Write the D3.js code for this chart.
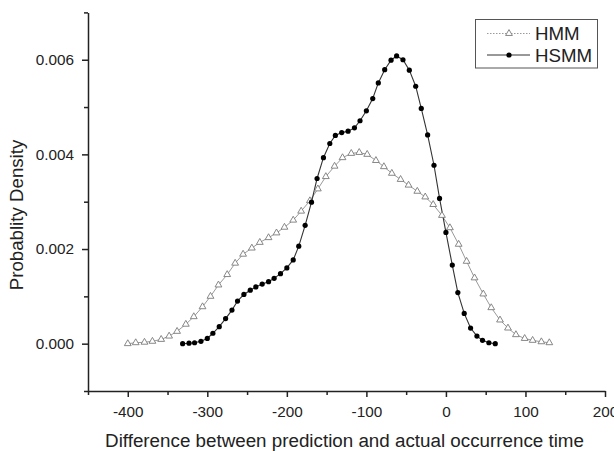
<!DOCTYPE html>
<html>
<head>
<meta charset="utf-8">
<script src="https://cdn.jsdelivr.net/npm/d3@7"></script>
<style>
  html, body { margin: 0; padding: 0; background: #fff; }
  svg { display: block; font-family: "Liberation Sans", Arial, sans-serif; }
</style>
</head>
<body>
<svg id="chart" width="614" height="451"></svg>
<script>
// ---- data ----
const seriesNames = ["HMM", "HSMM"];

const hmmX = [-400,-390,-379,-369,-358,-348,-338,-327,-317,-306,
              -296,-286,-275,-265,-255,-244,-234,-223,-213,-203,
              -192,-182,-171,-161,-151,-140,-130,-119,-109,-99,
              -88,-78,-68,-57,-47,-36,-26,-16,-5,5,
              16,26,36,47,57,68,78,88,99,109,
              120,130];
const hmmY = [0.00000,0.00002,0.00003,0.00005,0.00009,0.00016,0.00026,0.00041,0.00057,0.00078,
              0.00100,0.00124,0.00146,0.00170,0.00189,0.00202,0.00214,0.00224,0.00234,0.00246,
              0.00261,0.00280,0.00302,0.00327,0.00353,0.00375,0.00393,0.00402,0.00404,0.00400,
              0.00387,0.00374,0.00360,0.00347,0.00335,0.00322,0.00310,0.00294,0.00271,0.00245,
              0.00210,0.00174,0.00139,0.00105,0.00076,0.00050,0.00033,0.00019,0.00011,0.00007,
              0.00004,0.00002];

const hsmmX = [-331,-323,-316,-308,-300,-293,-285,-277,-269,-262,
               -254,-246,-239,-231,-223,-216,-208,-200,-192,-185,
               -177,-169,-162,-154,-146,-139,-131,-123,-115,-108,
               -100,-92,-85,-77,-69,-62,-54,-46,-38,-31,
               -23,-15,-8,0,8,15,23,31,39,46,
               54,62];
const hsmmY = [0.00000,0.00001,0.00002,0.00005,0.00011,0.00022,0.00036,0.00053,0.00071,0.00090,
               0.00104,0.00113,0.00120,0.00126,0.00131,0.00138,0.00148,0.00160,0.00177,0.00206,
               0.00250,0.00299,0.00349,0.00393,0.00423,0.00440,0.00446,0.00449,0.00456,0.00471,
               0.00492,0.00518,0.00551,0.00579,0.00599,0.00608,0.00600,0.00578,0.00544,0.00497,
               0.00441,0.00377,0.00307,0.00235,0.00166,0.00108,0.00064,0.00033,0.00016,0.00007,
               0.00002,0.00000];

const xTicks = [-400, -300, -200, -100, 0, 100, 200];
const xMinorTicks = [-450, -350, -250, -150, -50, 50, 150];
const yTicks = [0, 0.002, 0.004, 0.006];
const yTickLabels = ["0.000", "0.002", "0.004", "0.006"];
const yMinorTicks = [-0.001, 0.001, 0.003, 0.005, 0.007];

const xTitle = "Difference between prediction and actual occurrence time";
const yTitle = "Probablity Density";

// ---- layout ----
const svg = d3.select("#chart");
const plotLeft = 88, plotRight = 605, plotTop = 12.4, plotBottom = 391;
const x = d3.scaleLinear().domain([-450, 200]).range([plotLeft, plotRight]);
const y = d3.scaleLinear().domain([-0.001, 0.007]).range([plotBottom, plotTop]);

const axisColor = "#222";
const tickFont = "15.3px";

// x axis
svg.append("g").attr("transform", `translate(0,${plotBottom})`)
  .call(d3.axisBottom(x).tickValues(xTicks).tickFormat(d => d).tickSize(6).tickSizeOuter(0).tickPadding(9));
const gxm = svg.append("g").attr("transform", `translate(0,${plotBottom})`)
  .call(d3.axisBottom(x).tickValues(xMinorTicks).tickFormat("").tickSize(4).tickSizeOuter(0));
gxm.select(".domain").remove();

// y axis
svg.append("g").attr("transform", `translate(${plotLeft},0)`)
  .call(d3.axisLeft(y).tickValues(yTicks).tickFormat((d, i) => yTickLabels[i]).tickSize(6).tickSizeOuter(0).tickPadding(8));
const gym = svg.append("g").attr("transform", `translate(${plotLeft},0)`)
  .call(d3.axisLeft(y).tickValues(yMinorTicks).tickFormat("").tickSize(4).tickSizeOuter(0));
gym.select(".domain").remove();

svg.selectAll(".domain, .tick line").attr("stroke", axisColor).attr("stroke-width", 1.5);
svg.selectAll(".tick text").attr("fill", "#222").style("font-size", tickFont)
  .style("font-family", '"Liberation Sans", Arial, sans-serif');

// axis titles
svg.append("text").attr("x", (plotLeft + plotRight) / 2 - 2).attr("y", 447)
  .attr("text-anchor", "middle").attr("fill", "#222").style("font-size", "18.8px").text(xTitle);
svg.append("text").attr("transform", `translate(23,${215}) rotate(-90)`)
  .attr("text-anchor", "middle").attr("fill", "#222").style("font-size", "18.7px").text(yTitle);

// series
const hmm = hmmX.map((d, i) => [d, hmmY[i]]);
const hsmm = hsmmX.map((d, i) => [d, hsmmY[i]]);
const line = d3.line().x(d => x(d[0])).y(d => y(d[1]));

const hmmColor = "#9a9a9a", hmmMarker = "#7a7a7a";
const hsmmColor = "#333", hsmmMarker = "#000";

svg.append("path").datum(hmm).attr("d", line).attr("fill", "none")
  .attr("stroke", hmmColor).attr("stroke-width", 1);
svg.append("path").datum(hsmm).attr("d", line).attr("fill", "none")
  .attr("stroke", hsmmColor).attr("stroke-width", 1.1);

const tri = d3.symbol().type(d3.symbolTriangle).size(20);
svg.append("g").selectAll("path").data(hmm).join("path")
  .attr("d", tri).attr("transform", d => `translate(${x(d[0])},${y(d[1])})`)
  .attr("fill", "#fff").attr("stroke", hmmMarker).attr("stroke-width", 0.9);

svg.append("g").selectAll("circle").data(hsmm).join("circle")
  .attr("cx", d => x(d[0])).attr("cy", d => y(d[1])).attr("r", 2.6)
  .attr("fill", hsmmMarker);

// legend
const lg = svg.append("g");
lg.append("rect").attr("x", 475.5).attr("y", 19.5).attr("width", 122).attr("height", 48.5)
  .attr("fill", "#fff").attr("stroke", "#555").attr("stroke-width", 1);
const legendRows = [
  { name: seriesNames[0], y: 33.5, color: hmmColor, dash: "1.5,1.5", marker: "tri" },
  { name: seriesNames[1], y: 55, color: hsmmColor, dash: null, marker: "dot" }
];
legendRows.forEach(r => {
  lg.append("line").attr("x1", 487).attr("x2", 530).attr("y1", r.y).attr("y2", r.y)
    .attr("stroke", r.color).attr("stroke-width", 1)
    .attr("stroke-dasharray", r.dash);
  if (r.marker === "tri") {
    lg.append("path").attr("d", tri).attr("transform", `translate(509,${r.y})`)
      .attr("fill", "#fff").attr("stroke", hmmMarker).attr("stroke-width", 0.9);
  } else {
    lg.append("circle").attr("cx", 509).attr("cy", r.y).attr("r", 2.6).attr("fill", hsmmMarker);
  }
  lg.append("text").attr("x", 535).attr("y", r.y + 6.5).attr("fill", "#222")
    .style("font-size", "18.7px").text(r.name);
});
</script>
</body>
</html>
